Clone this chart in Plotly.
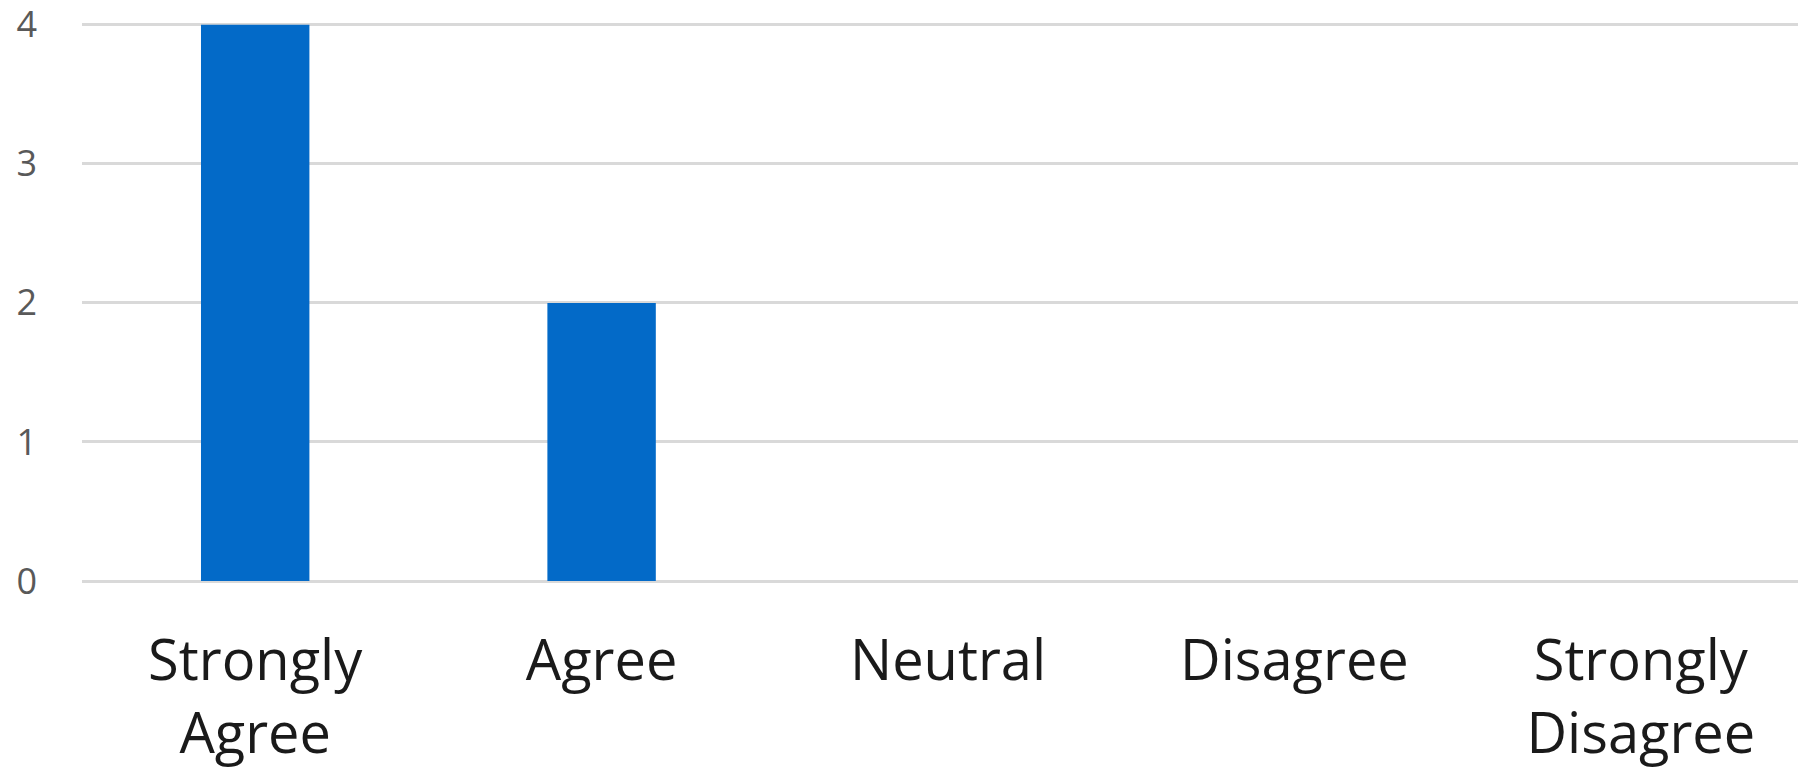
import plotly.graph_objects as go

categories = ["Strongly<br>Agree", "Agree", "Neutral", "Disagree", "Strongly<br>Disagree"]
values = [4, 2, 0, 0, 0]
y_ticks = [0, 1, 2, 3, 4]

fig = go.Figure(go.Bar(x=categories, y=values, marker=dict(color="#036AC8", line=dict(width=0)), width=0.313))

fig.update_layout(
    width=1806, height=772,
    margin=dict(l=74, r=0, t=14, b=199),
    paper_bgcolor="white", plot_bgcolor="white",
    showlegend=False,
    font=dict(family="Open Sans"),
)
fig.update_yaxes(
    range=[0, 4.02], tickvals=y_ticks, showgrid=True, gridcolor="#D9D9D9", gridwidth=3,
    zeroline=True, zerolinecolor="#D9D9D9", zerolinewidth=3,
    tickfont=dict(size=36, color="#595959", family="Open Sans"),
    ticks="", ticklabelstandoff=44, showline=False, ticklabeloverflow="allow",
    automargin=False,
)
fig.update_xaxes(
    tickfont=dict(size=56, color="#1a1a1a", family="Open Sans"),
    ticks="", ticklabelstandoff=42, showline=False, showgrid=False,
    automargin=False,
)
fig.write_html("out.html")
